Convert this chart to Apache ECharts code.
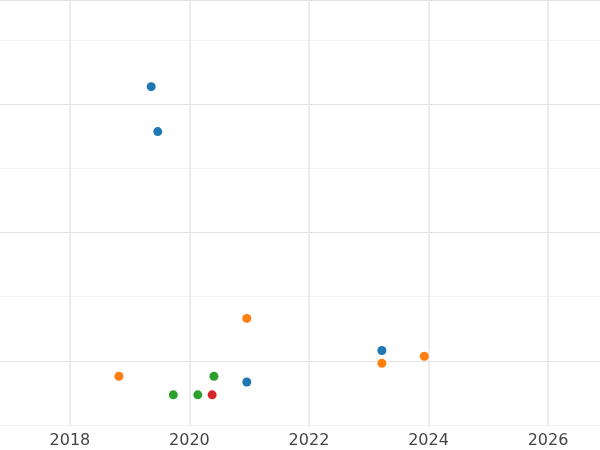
<!DOCTYPE html>
<html><head><meta charset="utf-8">
<script src="https://cdn.jsdelivr.net/npm/echarts@6/dist/echarts.min.js"></script>
<style>html,body{margin:0;padding:0;background:#fff}#c{width:600px;height:450px}</style>
</head><body><div id="c"></div>
<script>
const blue = [[2019.36,5.27],[2019.47,4.57],[2023.22,1.16],[2020.96,0.67]];
const orange = [[2018.82,0.76],[2020.96,1.66],[2023.22,0.96],[2023.93,1.07]];
const green = [[2019.73,0.47],[2020.14,0.47],[2020.41,0.76]];
const red = [[2020.38,0.47]];
const years = [2018,2020,2022,2024,2026];
const colors = ['#1f77b4','#ff7f0e','#2ca02c','#d62728'];
const chart = echarts.init(document.getElementById('c'));
const mk = (d,i)=>({type:'scatter',data:d,symbolSize:9,itemStyle:{color:colors[i],opacity:1}});
chart.setOption({
  animation:false,
  grid:{left:0,right:0,top:0,bottom:25},
  xAxis:{type:'value',min:2016.83,max:2026.87,
    axisLine:{show:false},axisTick:{show:false,customValues:years},
    axisLabel:{customValues:years,formatter:v=>String(Math.round(v)),color:'#444',fontSize:16,fontFamily:'DejaVu Sans',margin:8},
    splitLine:{lineStyle:{color:'#e6e6e6',width:1.5}}},
  yAxis:{type:'value',min:0,max:6.62,interval:1,
    axisLine:{show:false},axisTick:{show:false},axisLabel:{show:false},
    splitLine:{lineStyle:{color:['#f2f2f2','#e3e3e3'],width:1.2}}},
  series:[mk(blue,0),mk(orange,1),mk(green,2),mk(red,3)]
});
</script></body></html>
